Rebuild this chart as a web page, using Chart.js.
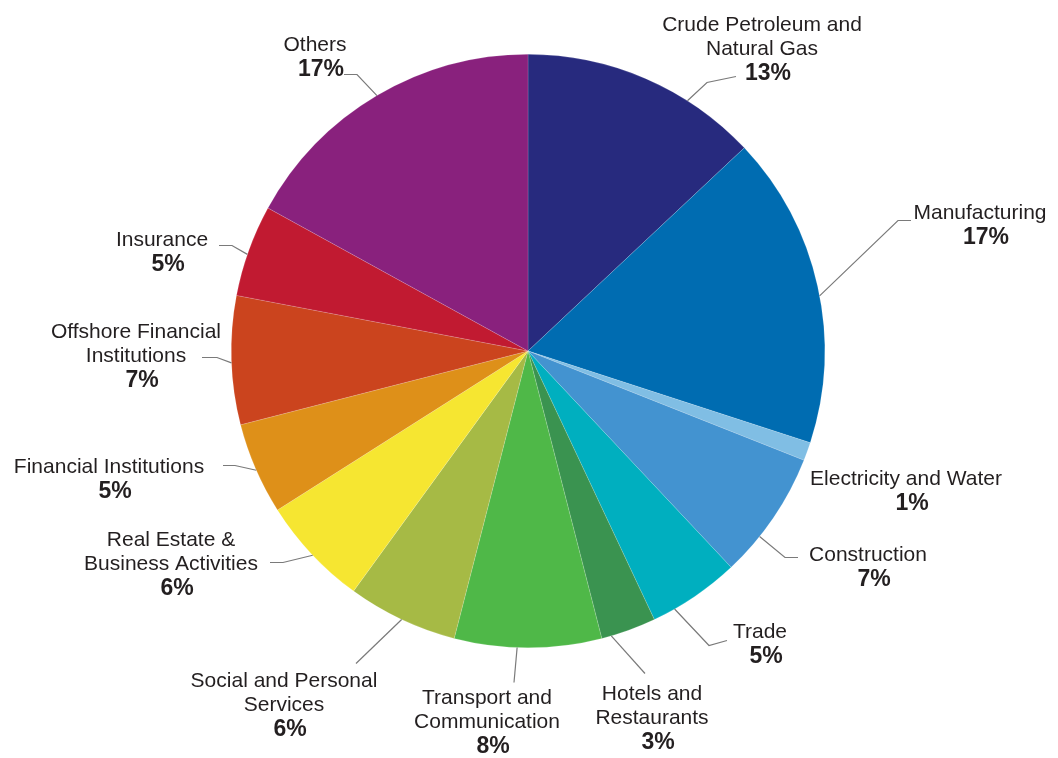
<!DOCTYPE html>
<html>
<head>
<meta charset="utf-8">
<script src="https://cdn.jsdelivr.net/npm/chart.js@4.4.1/dist/chart.umd.min.js"></script>
<style>
html, body { margin: 0; background: #fff; }
#wrap { width: 1058px; height: 758px; }
</style>
</head>
<body>
<div id="wrap"><canvas id="pie" width="1058" height="758"></canvas></div>
<script>
// sector names, one entry per drawn line
const sectors = [
    ["Crude Petroleum and", "Natural Gas"],
    ["Manufacturing"],
    ["Electricity and Water"],
    ["Construction"],
    ["Trade"],
    ["Hotels and", "Restaurants"],
    ["Transport and", "Communication"],
    ["Social and Personal", "Services"],
    ["Real Estate &", "Business Activities"],
    ["Financial Institutions"],
    ["Offshore Financial", "Institutions"],
    ["Insurance"],
    ["Others"],
];
const shares = [13, 17, 1, 7, 5, 3, 8, 6, 6, 5, 7, 5, 17];   // % of GDP
const colors = [
    "#272a7e", "#006cb1", "#80bee4", "#4393d0", "#00afbf", "#3a9350", "#4fb848",
    "#a6ba45", "#f6e631", "#de9019", "#cb441e", "#c11a31", "#89217d",
];

// callout layout: px offsets from the pie centre.
// edge = angle (deg, clockwise from 12 o'clock) where the leader leaves the rim
const callouts = [
    { text: [234, -326], edge: 32.5,  line: [[179, -269], [208, -275]] },
    { text: [452, -138], edge: 79.3,  line: [[370, -131], [383, -131]] },
    { text: [378, 128] },                                   // no leader
    { text: [340, 204],  edge: 128.7, line: [[257, 206], [270, 206]] },
    { text: [232, 281],  edge: 150.4, line: [[181, 294], [199, 289]] },
    { text: [124, 343],  edge: 163.7, line: [[117, 322]] },
    { text: [-41, 347],  edge: 182.1, line: [[-14, 331]] },
    { text: [-244, 330], edge: 205.2, line: [[-172, 312]] },
    { text: [-357, 189], edge: 226.5, line: [[-245, 211], [-258, 211]] },
    { text: [-419, 116], edge: 246.3, line: [[-293, 114], [-305, 114]] },
    { text: [-392, -19], edge: 267.7, line: [[-311, 6], [-326, 6]] },
    { text: [-366, -111], edge: 289,  line: [[-296, -106], [-309, -106]] },
    { text: [-213, -306], edge: 329.4, line: [[-171, -277], [-184, -277]] },
];

const NAME_FONT = '21px "Liberation Sans", Arial, sans-serif';
const PCT_FONT = 'bold 23px "Liberation Sans", Arial, sans-serif';
const LINE_GAP = 24, PCT_GAP = 25, PCT_NUDGE = 6;

const calloutPlugin = {
    id: "callouts",
    afterDraw(chart) {
        const ctx = chart.ctx;
        const arc = chart.getDatasetMeta(0).data[0];
        const cx = arc.x, cy = arc.y, r = arc.outerRadius;
        ctx.save();
        callouts.forEach((c, i) => {
            if (c.line) {
                const a = c.edge * Math.PI / 180;
                ctx.beginPath();
                ctx.moveTo(cx + r * Math.sin(a), cy - r * Math.cos(a));
                c.line.forEach(([dx, dy]) => ctx.lineTo(cx + dx, cy + dy + 0.5));
                ctx.strokeStyle = "#7a7a7a";
                ctx.lineWidth = 1.2;
                ctx.stroke();
            }
            const tx = cx + c.text[0];
            let ty = cy + c.text[1];
            ctx.textAlign = "center";
            ctx.textBaseline = "middle";
            ctx.fillStyle = "#231f20";
            ctx.font = NAME_FONT;
            sectors[i].forEach((s, k) => ctx.fillText(s, tx, ty + k * LINE_GAP));
            ty += (sectors[i].length - 1) * LINE_GAP + PCT_GAP;
            ctx.font = PCT_FONT;
            ctx.fillText(shares[i] + "%", tx + PCT_NUDGE, ty);
        });
        ctx.restore();
    },
};

new Chart(document.getElementById("pie"), {
    type: "pie",
    data: {
        labels: sectors,
        datasets: [{
            data: shares,
            backgroundColor: colors,
            borderColor: "rgba(255,255,255,0.3)",
            borderWidth: 0.5,
            hoverOffset: 0,
        }],
    },
    options: {
        responsive: false,
        animation: false,
        events: [],
        layout: { padding: { top: 54, bottom: 110, left: 231, right: 233 } },
        plugins: {
            legend: { display: false },
            tooltip: { enabled: false },
        },
    },
    plugins: [calloutPlugin],
});
</script>
</body>
</html>
